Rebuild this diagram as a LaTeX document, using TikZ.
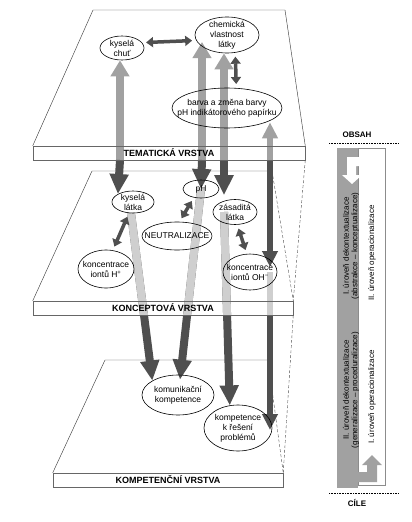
\documentclass[tikz,border=0pt]{standalone}
\usepackage{fontspec}
\setmainfont{Liberation Sans}
\usetikzlibrary{arrows.meta, shapes.geometric, calc, backgrounds}

\begin{document}
\begin{tikzpicture}[
            x=1pt, y=-1pt,
            bubble/.style={ellipse, draw=black, line width=0.6pt, inner sep=-30pt, align=center, font=\fontsize{8.5}{10}\selectfont},
            layerband/.style={draw=black!60, line width=0.5pt, minimum height=14pt, inner sep=0pt, font=\fontsize{9}{10}\selectfont\bfseries},
            planeline/.style={draw=black!75, line width=0.45pt},
            hiddenline/.style={draw=black!70, line width=0.4pt, dash pattern=on 3pt off 2pt},
            upshaft/.style={draw=black!37, line width=8pt, -{Triangle[width=18pt,length=16pt]}},
            downshaft/.style={draw=black!69, line width=8pt, -{Triangle[width=18pt,length=20pt]}},
            slim/.style={line width=6pt, -{Triangle[width=15pt,length=16pt]}},
            stripe/.style={draw=black!19, line width=8pt},
            link/.style={draw=black!69, line width=3.5pt, shorten <=4pt, shorten >=4pt, {Triangle[width=10pt,length=7pt]}-{Triangle[width=10pt,length=7pt]}},
            sidetext/.style={rotate=90, align=center, font=\fontsize{8}{8.5}\selectfont},
            ]
            \useasboundingbox (0,0) rectangle (412,522);

            % vrstvy
            \node[layerband, minimum width=272pt] (tema)    at (169,153) {TEMATICKÁ VRSTVA};
            \node[layerband, minimum width=260pt] (koncept) at (163,308) {KONCEPTOVÁ VRSTVA};
            \node[layerband, minimum width=230pt] (kompet)  at (168,480) {KOMPETENČNÍ VRSTVA};

            % tematicka vrstva
            \node[bubble, minimum width=44pt, minimum height=24pt]  (chut)  at (122,48)  {kyselá\\chuť};
            \node[bubble, minimum width=64pt, minimum height=36pt]  (chem)  at (227,35)  {chemická\\vlastnost\\látky};
            \node[bubble, minimum width=110pt, minimum height=40pt] (barva) at (227,108) {barva a změna barvy\\pH indikátorového papírku};

            % konceptova vrstva
            \node[bubble, minimum width=42pt, minimum height=22pt] (latka)   at (133,202) {kyselá\\látka};
            \node[bubble, minimum width=36pt, minimum height=18pt] (ph)      at (201,189) {pH};
            \node[bubble, minimum width=44pt, minimum height=25pt] (zasad)   at (235,212) {zásaditá\\látka};
            \node[bubble, minimum width=70pt, minimum height=28pt] (neutral) at (177,236) {NEUTRALIZACE};
            \node[bubble, minimum width=56pt, minimum height=38pt] (ionth)   at (106,269) {koncentrace\\iontů H\textsuperscript{+}};
            \node[bubble, minimum width=54pt, minimum height=36pt] (iontoh)  at (250,272) {koncentrace\\iontů OH\textsuperscript{−}};

            % kompetencni vrstva
            \node[bubble, minimum width=72pt, minimum height=40pt] (komun)  at (178,395) {komunikační\\kompetence};
            \node[bubble, minimum width=68pt, minimum height=46pt] (reseni) at (238,428) {kompetence\\k řešení\\problémů};

            \coordinate (j1) at (120,160);
            \coordinate (j2) at (202,160);
            \coordinate (j3) at (224,160);
            \coordinate (j4) at (270,160);

            \begin{scope}[on background layer]
                % roviny
                \draw[planeline] (tema.north west) -- (93,10) -- (285,10) -- (tema.north east);
                \draw[planeline] (koncept.north west) -- (92,171) -- (272,171);
                \draw[hiddenline] (272,171) -- (koncept.north east);
                \draw[planeline] (kompet.north west) -- (105,360) -- (268,360);
                \draw[hiddenline] (268,360) -- (kompet.north east);
                \draw[hiddenline] (tema.south east) -- (koncept.north east);
                \draw[hiddenline] (koncept.south east) -- (kompet.north east);

                % velke sipky
                \draw[upshaft] (j1) -- (j1 |- chut.south);
                \draw[downshaft] (j1) -- (latka.north west);
                \draw[upshaft] (j2) -- ($(j2 |- chem.center)+(0,7)$);
                \draw[downshaft] (j2) -- (ph.center);
                \draw[upshaft] (j3) -- (j3 |- chem.south);
                \draw[downshaft] (j3) -- ($(j3 |- zasad.north)+(0,-4)$);
                \draw[upshaft, slim] (j4) -- ($(j4 |- barva.south)+(0,-6)$);
                \draw[downshaft, slim] (j4) -- ($(j4 |- iontoh.center)+(0,-5)$);

                \draw[downshaft] (latka.-100) -- (komun.north west);
                \draw[downshaft] (ph.center) -- ($(komun.north)+(2,5)$);
                \draw[downshaft] (j3 |- zasad.center) -- (reseni.110);
                \draw[downshaft, slim] (j4 |- iontoh.center) -- ($(j4 |- reseni.center)+(0,2)$);
                \begin{scope}
                    \clip (0,0) rectangle (412,315);
                    \draw[stripe] (latka.-100) -- (komun.north west);
                    \draw[stripe] (ph.center) -- ($(komun.north)+(2,5)$);
                    \draw[stripe] (j3 |- zasad.center) -- (reseni.110);
                    \draw[stripe, line width=6pt] (j4 |- iontoh.center) -- ($(j4 |- reseni.center)+(0,2)$);
                \end{scope}
            \end{scope}

            % vazby
            \draw[link] (chut.15) -- (chem.190);
            \draw[link] (chem.-65) -- (barva.65);
            \draw[link] (latka.-110) -- (ionth.70);
            \draw[link] (ph.-130) -- (neutral.80);
            \draw[link] (zasad.-80) -- (iontoh.100);

            % obsah a cile
            \node[font=\fontsize{8}{9}\selectfont\bfseries] (obsah) at (357,135) {OBSAH};
            \draw[densely dotted, line width=0.6pt] (329,143) -- (399,143);
            \fill[black!37] (337,148) rectangle (358,488);
            \draw[black!45, line width=0.4pt, fill=white] (358,148) rectangle (385,485);
            \fill[white] (359,157) -- (347,157) -- (347,175) -- (342,175) -- (352,184) -- (362,175) -- (356,175) -- (356,166) -- (359,166) -- cycle;
            \fill[black!37] (357,482) -- (377,482) -- (377,465) -- (382,465) -- (372,455) -- (362,465) -- (367,465) -- (367,472) -- (357,472) -- cycle;
            \node[sidetext] (abstr) at (351,246) {I. úroveň dekontextualizace\\(abstrakce – konceptualizace)};
            \node[sidetext] (oper2) at (372,253) {II. úroveň operacionalizace};
            \node[sidetext] (gener) at (351,390) {II. úroveň dekontextualizace\\(generalizace – proceduralizace)};
            \node[sidetext] (oper1) at (372,397) {I. úroveň operacionalizace};
            \draw[densely dotted, line width=0.6pt] (329,493) -- (399,493);
            \node[font=\fontsize{8}{9}\selectfont\bfseries] (cile) at (357,503) {CÍLE};
        \end{tikzpicture}
\end{document}
